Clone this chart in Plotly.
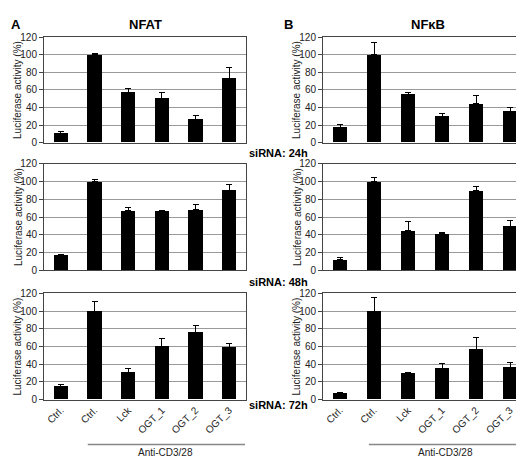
import plotly.graph_objects as go

categories = ["Ctrl.", "Ctrl.", "Lck", "OGT_1", "OGT_2", "OGT_3"]
tick_values = [0, 20, 40, 60, 80, 100, 120]

nfat_24h = [10, 100, 57, 50, 26, 73]
nfat_24h_err = [2.5, 2, 4.5, 7, 4.5, 13]
nfat_48h = [17, 100, 67, 66.5, 68, 90.5]
nfat_48h_err = [1, 2, 3.5, 1, 6, 6.5]
nfat_72h = [14.5, 100, 31, 60, 76, 58.5]
nfat_72h_err = [3, 11, 4, 9.5, 8, 5]

nfkb_24h = [17.5, 100, 54.5, 30, 44, 35]
nfkb_24h_err = [3, 14, 2.5, 3, 10, 5]
nfkb_48h = [12, 100, 44.5, 41, 90, 49.5]
nfkb_48h_err = [2, 5, 11, 2, 4, 7]
nfkb_72h = [7, 100, 29, 35.5, 56.5, 36.5]
nfkb_72h_err = [1, 16, 2, 5.5, 13.5, 5]

row_labels = ["siRNA: 24h", "siRNA: 48h", "siRNA: 72h"]
W, H = 524, 457

panels = [
    (nfat_24h, nfat_24h_err), (nfkb_24h, nfkb_24h_err),
    (nfat_48h, nfat_48h_err), (nfkb_48h, nfkb_48h_err),
    (nfat_72h, nfat_72h_err), (nfkb_72h, nfkb_72h_err),
]

xdom = [(36, 238), (315, 519)]
ydom = [(24, 132), (154, 263), (287, 396)]

fig = go.Figure()
font = "Liberation Sans, Arial, sans-serif"
layout = {}
for i, (vals, errs) in enumerate(panels):
    r, c = divmod(i, 2)
    n = i + 1
    xa = "x" if n == 1 else f"x{n}"
    ya = "y" if n == 1 else f"y{n}"
    fig.add_trace(go.Bar(
        x=list(range(len(categories))), y=vals, width=0.42,
        marker=dict(color="black", line=dict(width=0)),
        error_y=dict(type="data", array=errs, arrayminus=[0] * len(errs),
                     symmetric=False, color="black", thickness=1, width=3),
        xaxis=xa, yaxis=ya, showlegend=False,
    ))
    xkey = "xaxis" if n == 1 else f"xaxis{n}"
    ykey = "yaxis" if n == 1 else f"yaxis{n}"
    x0, x1 = xdom[c]
    y0, y1 = ydom[r]
    layout[xkey] = dict(
        domain=[x0 / W, x1 / W], anchor=ya, range=[-0.5, 5.5],
        tickmode="array", tickvals=list(range(6)), ticktext=categories,
        showticklabels=(r == 2), tickangle=-45, ticks="",
        showline=True, linecolor="#444", linewidth=1, mirror=True,
        showgrid=False, zeroline=False,
        tickfont=dict(family=font, size=10, color="#222"),
    )
    layout[ykey] = dict(
        domain=[1 - y1 / H, 1 - y0 / H], anchor=xa, range=[0, 120],
        tickmode="array", tickvals=tick_values,
        ticks="outside", ticklen=4, tickcolor="#444",
        showline=True, linecolor="#444", linewidth=1, mirror=True,
        showgrid=True, gridcolor="#999", gridwidth=1, zeroline=False,
        tickfont=dict(family=font, size=10, color="#222"),
    )

annotations = []
# y-axis titles
for r in range(3):
    y0, y1 = ydom[r]
    for c in range(2):
        xpix = 10 if c == 0 else 289
        annotations.append(dict(
            x=xpix / W, y=1 - (y0 + y1) / 2 / H, xref="paper", yref="paper",
            text="Luciferase activity (%)", textangle=-90, showarrow=False,
            font=dict(family=font, size=10, color="#222"),
            xanchor="center", yanchor="middle"))
# panel letters and titles
annotations += [
    dict(x=8 / W, y=1 - 11 / H, text="<b>A</b>", xref="paper", yref="paper",
         showarrow=False, font=dict(family=font, size=13, color="black"),
         xanchor="center", yanchor="middle"),
    dict(x=137 / W, y=1 - 11 / H, text="<b>NFAT</b>", xref="paper", yref="paper",
         showarrow=False, font=dict(family=font, size=13, color="black"),
         xanchor="center", yanchor="middle"),
    dict(x=280 / W, y=1 - 11 / H, text="<b>B</b>", xref="paper", yref="paper",
         showarrow=False, font=dict(family=font, size=13, color="black"),
         xanchor="center", yanchor="middle"),
    dict(x=420 / W, y=1 - 11 / H, text="<b>NFκB</b>", xref="paper", yref="paper",
         showarrow=False, font=dict(family=font, size=13, color="black"),
         xanchor="center", yanchor="middle"),
]
for lbl, ypix in zip(row_labels, [143, 275, 402]):
    annotations.append(dict(
        x=239 / W, y=1 - ypix / H, text=f"<b>{lbl}</b>", xref="paper", yref="paper",
        showarrow=False, font=dict(family=font, size=11, color="black"),
        xanchor="left", yanchor="middle"))
# Anti-CD3/28
for xr in ["x5", "x6"]:
    annotations.append(dict(
        x=3.1, y=0, xref=xr, yref="paper", text="Anti-CD3/28",
        showarrow=False, font=dict(family=font, size=10, color="#222"),
        xanchor="center", yanchor="bottom", borderpad=0))
shapes = [
    dict(type="line", xref="x5", yref="paper", x0=0.8, x1=5.47,
         y0=1 - 442 / H, y1=1 - 442 / H, line=dict(color="#888", width=1.5)),
    dict(type="line", xref="x6", yref="paper", x0=0.85, x1=5.41,
         y0=1 - 442 / H, y1=1 - 442 / H, line=dict(color="#888", width=1.5)),
]

fig.update_layout(
    width=W, height=H, margin=dict(l=0, r=0, t=0, b=0),
    paper_bgcolor="white", plot_bgcolor="white",
    annotations=annotations, shapes=shapes, bargap=0,
    **layout,
)
fig.write_html("out.html")
